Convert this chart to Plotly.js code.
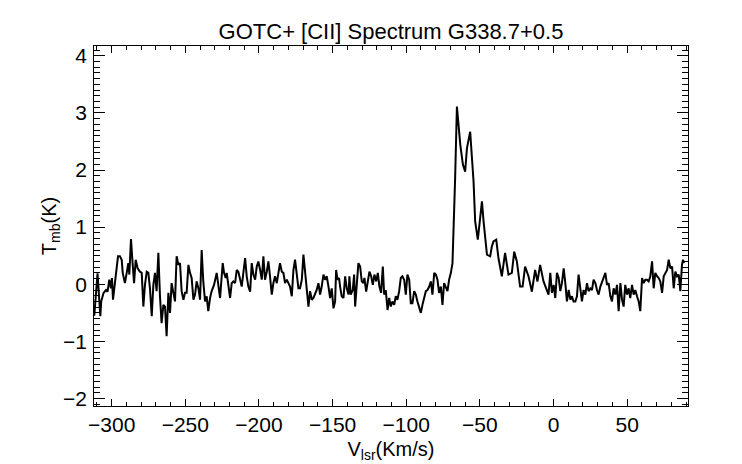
<!DOCTYPE html>
<html>
<head>
<meta charset="utf-8">
<script src="https://cdn.plot.ly/plotly-3.0.1.min.js"></script>
<style>html,body{margin:0;padding:0;background:#fff;}#chart{width:742px;height:464px;}</style>
</head>
<body>
<div id="chart"></div>
<script>
// Velocity channels (km/s)
const vel = [
-311.8,-309.6,-307.7,-307.1,-305.5,-303.9,-302.8,-301.6,-300.5,-299.8,-299.1,-298.0,-296.9,-295.7,
-294.4,-293.2,-292.5,-291.0,-289.8,-288.7,-288.0,-286.9,-285.8,-284.8,-283.7,-282.4,-280.8,-279.6,-278.5,-277.4,
-276.2,-275.1,-274.0,-272.8,-271.7,-270.6,-269.5,-268.3,-267.2,-266.1,-264.9,-263.8,-262.7,-261.5,-260.4,-259.3,
-258.1,-257.0,-255.9,-254.7,-253.6,-252.5,-251.3,-250.2,-249.1,-247.9,-246.8,-245.7,-244.5,-243.4,-242.3,-241.1,
-240.0,-238.9,-237.8,-236.6,-235.5,-234.4,-233.2,-232.1,-230.5,
-228.7,-227.6,-226.4,-225.3,-224.6,-223.7,-222.6,-221.9,-220.8,-219.6,-218.5,-217.4,-216.2,-215.1,-214.0,-212.8,
-211.7,-210.6,-209.4,-208.3,-207.2,-206.0,-204.9,-203.8,-202.6,-201.5,-200.4,-199.2,-198.1,-197.0,-195.9,-194.7,
-193.6,-192.5,-191.3,-190.2,-189.1,-187.9,-186.8,-185.7,-184.5,-183.4,-182.3,-181.1,-180.0,-178.9,-177.7,-176.6,
-175.5,-174.3,-173.2,-172.1,-170.9,-169.8,-168.7,-167.5,-166.4,-165.3,-164.1,-163.0,-161.9,-160.8,-159.6,-158.5,
-157.4,-156.2,-155.1,-154.0,-152.8,-151.7,-150.6,-149.4,-148.3,
-147.6,-146.7,-145.6,-144.9,-143.8,-142.6,-141.5,-140.4,-139.2,-138.6,-137.7,-136.3,-135.4,-134.7,-133.6,-132.5,
-131.3,-130.2,-129.1,-128.4,-127.2,-126.1,-125.0,-123.8,-122.7,-121.6,-120.4,-119.3,-118.2,-117.1,-115.9,-115.0,
-113.9,-112.7,-111.6,-110.5,-109.4,-108.2,-107.1,-106.0,-104.8,-103.7,-102.6,-101.4,-100.3,-99.2,-98.0,-96.9,
-95.8,-94.6,-93.5,-92.4,-91.2,-90.1,-89.0,-87.8,-86.7,-85.6,-84.4,-83.3,-82.2,-81.0,-79.9,-78.8,
-77.7,-76.5,-75.4,-74.3,-73.1,-72.0,-70.9,-69.7,-68.6,
-67.9,-66.8,-65.6,-64.5,-63.3,-61.5,-60.0,-58.8,-56.6,-54.3,-53.2,-51.4,-48.6,-47.5,-45.2,-43.0,
-41.9,-40.8,-38.9,-37.4,-35.1,-32.9,-30.6,-28.3,-26.7,-24.9,-22.7,-21.0,-19.3,-17.0,-14.7,-12.5,
-10.9,-9.1,-6.8,-3.4,
-2.2,-1.1,0.06,1.2,2.3,3.5,4.6,5.7,6.9,8.0,9.1,10.3,11.4,12.5,13.6,14.8,
15.9,17.0,18.2,19.3,20.4,21.6,22.7,23.8,25.0,26.1,27.2,28.4,29.5,30.6,31.8,32.9,
34.0,35.2,36.3,37.4,38.6,39.7,40.8,42.0,43.1,44.2,45.4,46.5,47.6,48.7,49.9,51.0,
52.1,53.3,54.4,55.5,56.7,57.8,58.9,60.1,61.2,62.3,63.5,64.6,65.7,66.9,68.0,69.1,
70.3,71.4,72.5,73.7,74.8,75.9,77.1,78.2,79.3,80.5,81.6,82.7,83.9,85.0,86.1,87.2,
87.9,88.6
];
// Main-beam temperature (K)
const tmb = [
-0.55,0.19,-0.56,-0.30,-0.15,-0.10,-0.13,0.08,-0.07,0.11,-0.27,-0.01,0.22,0.49,
0.49,0.43,0.20,0.02,0.20,0.37,0.17,0.79,0.37,0.02,0.43,0.28,0.22,0.20,-0.39,-0.01,
0.22,0.20,-0.07,-0.56,-0.01,0.20,-0.12,0.55,-0.21,-0.68,-0.36,-0.39,-0.91,-0.15,-0.50,0.02,
-0.15,-0.30,0.49,0.34,0.37,-0.12,-0.27,-0.15,-0.15,0.34,0.20,0.11,-0.27,-0.18,0.05,-0.07,
-0.27,0.60,0.05,-0.30,-0.21,-0.47,-0.24,-0.12,-0.01,
0.20,-0.01,-0.24,0.14,0.37,0.20,0.11,0.20,-0.04,-0.24,0.02,0.05,0.02,0.25,0.22,0.08,
-0.04,0.20,0.46,0.14,-0.04,-0.13,0.37,0.17,0.08,0.31,0.40,0.25,0.08,0.49,0.08,0.22,
0.40,0.14,-0.18,0.02,0.14,0.02,0.22,0.37,0.22,0.20,0.02,0.08,0.02,-0.04,-0.21,0.25,
0.43,0.14,-0.07,-0.07,0.08,0.52,0.25,-0.04,-0.39,-0.12,-0.27,-0.24,-0.18,-0.10,0.02,-0.18,
-0.04,0.17,0.08,0.14,-0.04,-0.24,-0.07,-0.42,-0.30,
0.25,0.08,0.11,-0.04,-0.21,-0.24,0.14,-0.07,-0.18,0.14,-0.18,-0.10,0.17,-0.39,-0.04,0.37,
0.31,0.05,0.02,0.11,-0.13,0.02,0.22,0.14,-0.01,0.17,0.05,0.20,-0.04,-0.15,0.31,-0.18,
-0.10,-0.45,-0.24,-0.39,-0.30,-0.36,-0.21,-0.27,-0.12,0.11,0.14,0.08,-0.18,0.17,0.08,-0.33,
-0.33,-0.12,-0.18,-0.30,-0.42,-0.50,-0.36,-0.21,-0.12,-0.10,-0.04,0.05,-0.18,0.20,0.17,0.08,
-0.15,-0.04,-0.36,0.02,-0.04,-0.12,0.08,0.20,0.37,
0.87,1.86,3.11,2.73,2.44,2.09,1.97,2.38,2.67,1.80,1.10,0.78,1.45,1.10,0.52,0.49,
0.66,0.75,0.78,0.46,0.14,0.55,0.17,0.20,0.57,0.40,-0.04,-0.04,0.31,0.14,-0.13,0.25,
0.05,0.34,0.05,-0.18,
0.20,-0.15,-0.01,-0.24,0.20,0.11,-0.12,0.02,0.28,0.02,-0.30,-0.10,-0.27,-0.21,-0.30,-0.30,
-0.21,0.17,-0.04,-0.30,-0.10,-0.18,0.02,-0.12,-0.07,-0.10,0.08,0.02,-0.10,-0.18,-0.04,0.05,
0.14,0.20,-0.01,0.02,-0.21,-0.30,-0.07,-0.18,-0.01,-0.47,0.02,-0.27,-0.39,-0.01,-0.18,-0.07,
-0.24,-0.01,-0.18,-0.10,-0.21,-0.30,-0.47,0.11,0.02,0.08,0.08,0.05,0.14,0.40,-0.07,0.20,
0.14,0.11,0.05,-0.15,0.14,0.20,0.25,0.43,0.28,0.31,-0.07,0.22,0.14,0.17,-0.12,0.34,
0.43,0.37
];
// Axis tick spacing (major / minor)
const xTickStep = [50, 10];
const yTickStep = [1, 0.1];

const fontFam = 'Liberation Sans, Arial, Helvetica, sans-serif';
const black = '#000000';

const trace = {
  x: vel, y: tmb, type: 'scatter', mode: 'lines',
  line: {color: black, width: 2},
  hoverinfo: 'skip'
};

const layout = {
  width: 742, height: 464,
  margin: {l: 94, r: 54, t: 46, b: 58, pad: 0},
  paper_bgcolor: '#fff', plot_bgcolor: '#fff',
  showlegend: false,
  font: {family: fontFam, size: 21, color: black},
  title: {
    text: 'GOTC+ [CII] Spectrum G338.7+0.5',
    font: {family: fontFam, size: 22, color: black},
    x: 391/742, xref: 'container', xanchor: 'center',
    y: 1 - 31/464, yref: 'container', yanchor: 'middle'
  },
  xaxis: {
    range: [-312, 91.3],
    tickmode: 'linear', tick0: 0, dtick: xTickStep[0],
    ticks: 'inside', ticklen: 7, tickwidth: 1, tickcolor: black,
    minor: {tickmode: 'linear', tick0: 0, dtick: xTickStep[1], ticks: 'inside', ticklen: 4, tickwidth: 1, tickcolor: black, showgrid: false},
    showline: true, linecolor: black, linewidth: 1,
    mirror: 'allticks',
    showgrid: false, zeroline: false,
    tickfont: {family: fontFam, size: 21, color: black},
    title: {text: 'V<sub>lsr</sub>(Km/s)', font: {family: fontFam, size: 20, color: black}, standoff: 6}
  },
  yaxis: {
    range: [-2.13, 4.17],
    tickmode: 'linear', tick0: 0, dtick: yTickStep[0],
    ticks: 'inside', ticklen: 11, tickwidth: 1, tickcolor: black,
    minor: {tickmode: 'linear', tick0: 0, dtick: yTickStep[1], ticks: 'inside', ticklen: 6, tickwidth: 1, tickcolor: black, showgrid: false},
    showline: true, linecolor: black, linewidth: 1,
    mirror: 'allticks',
    showgrid: false, zeroline: false,
    tickfont: {family: fontFam, size: 21, color: black},
    ticksuffix: '\u200A',
    title: {text: 'T<sub>mb</sub>(K)', font: {family: fontFam, size: 20, color: black}, standoff: 1}
  }
};

Plotly.newPlot('chart', [trace], layout, {displayModeBar: false, staticPlot: true});
</script>
</body>
</html>
